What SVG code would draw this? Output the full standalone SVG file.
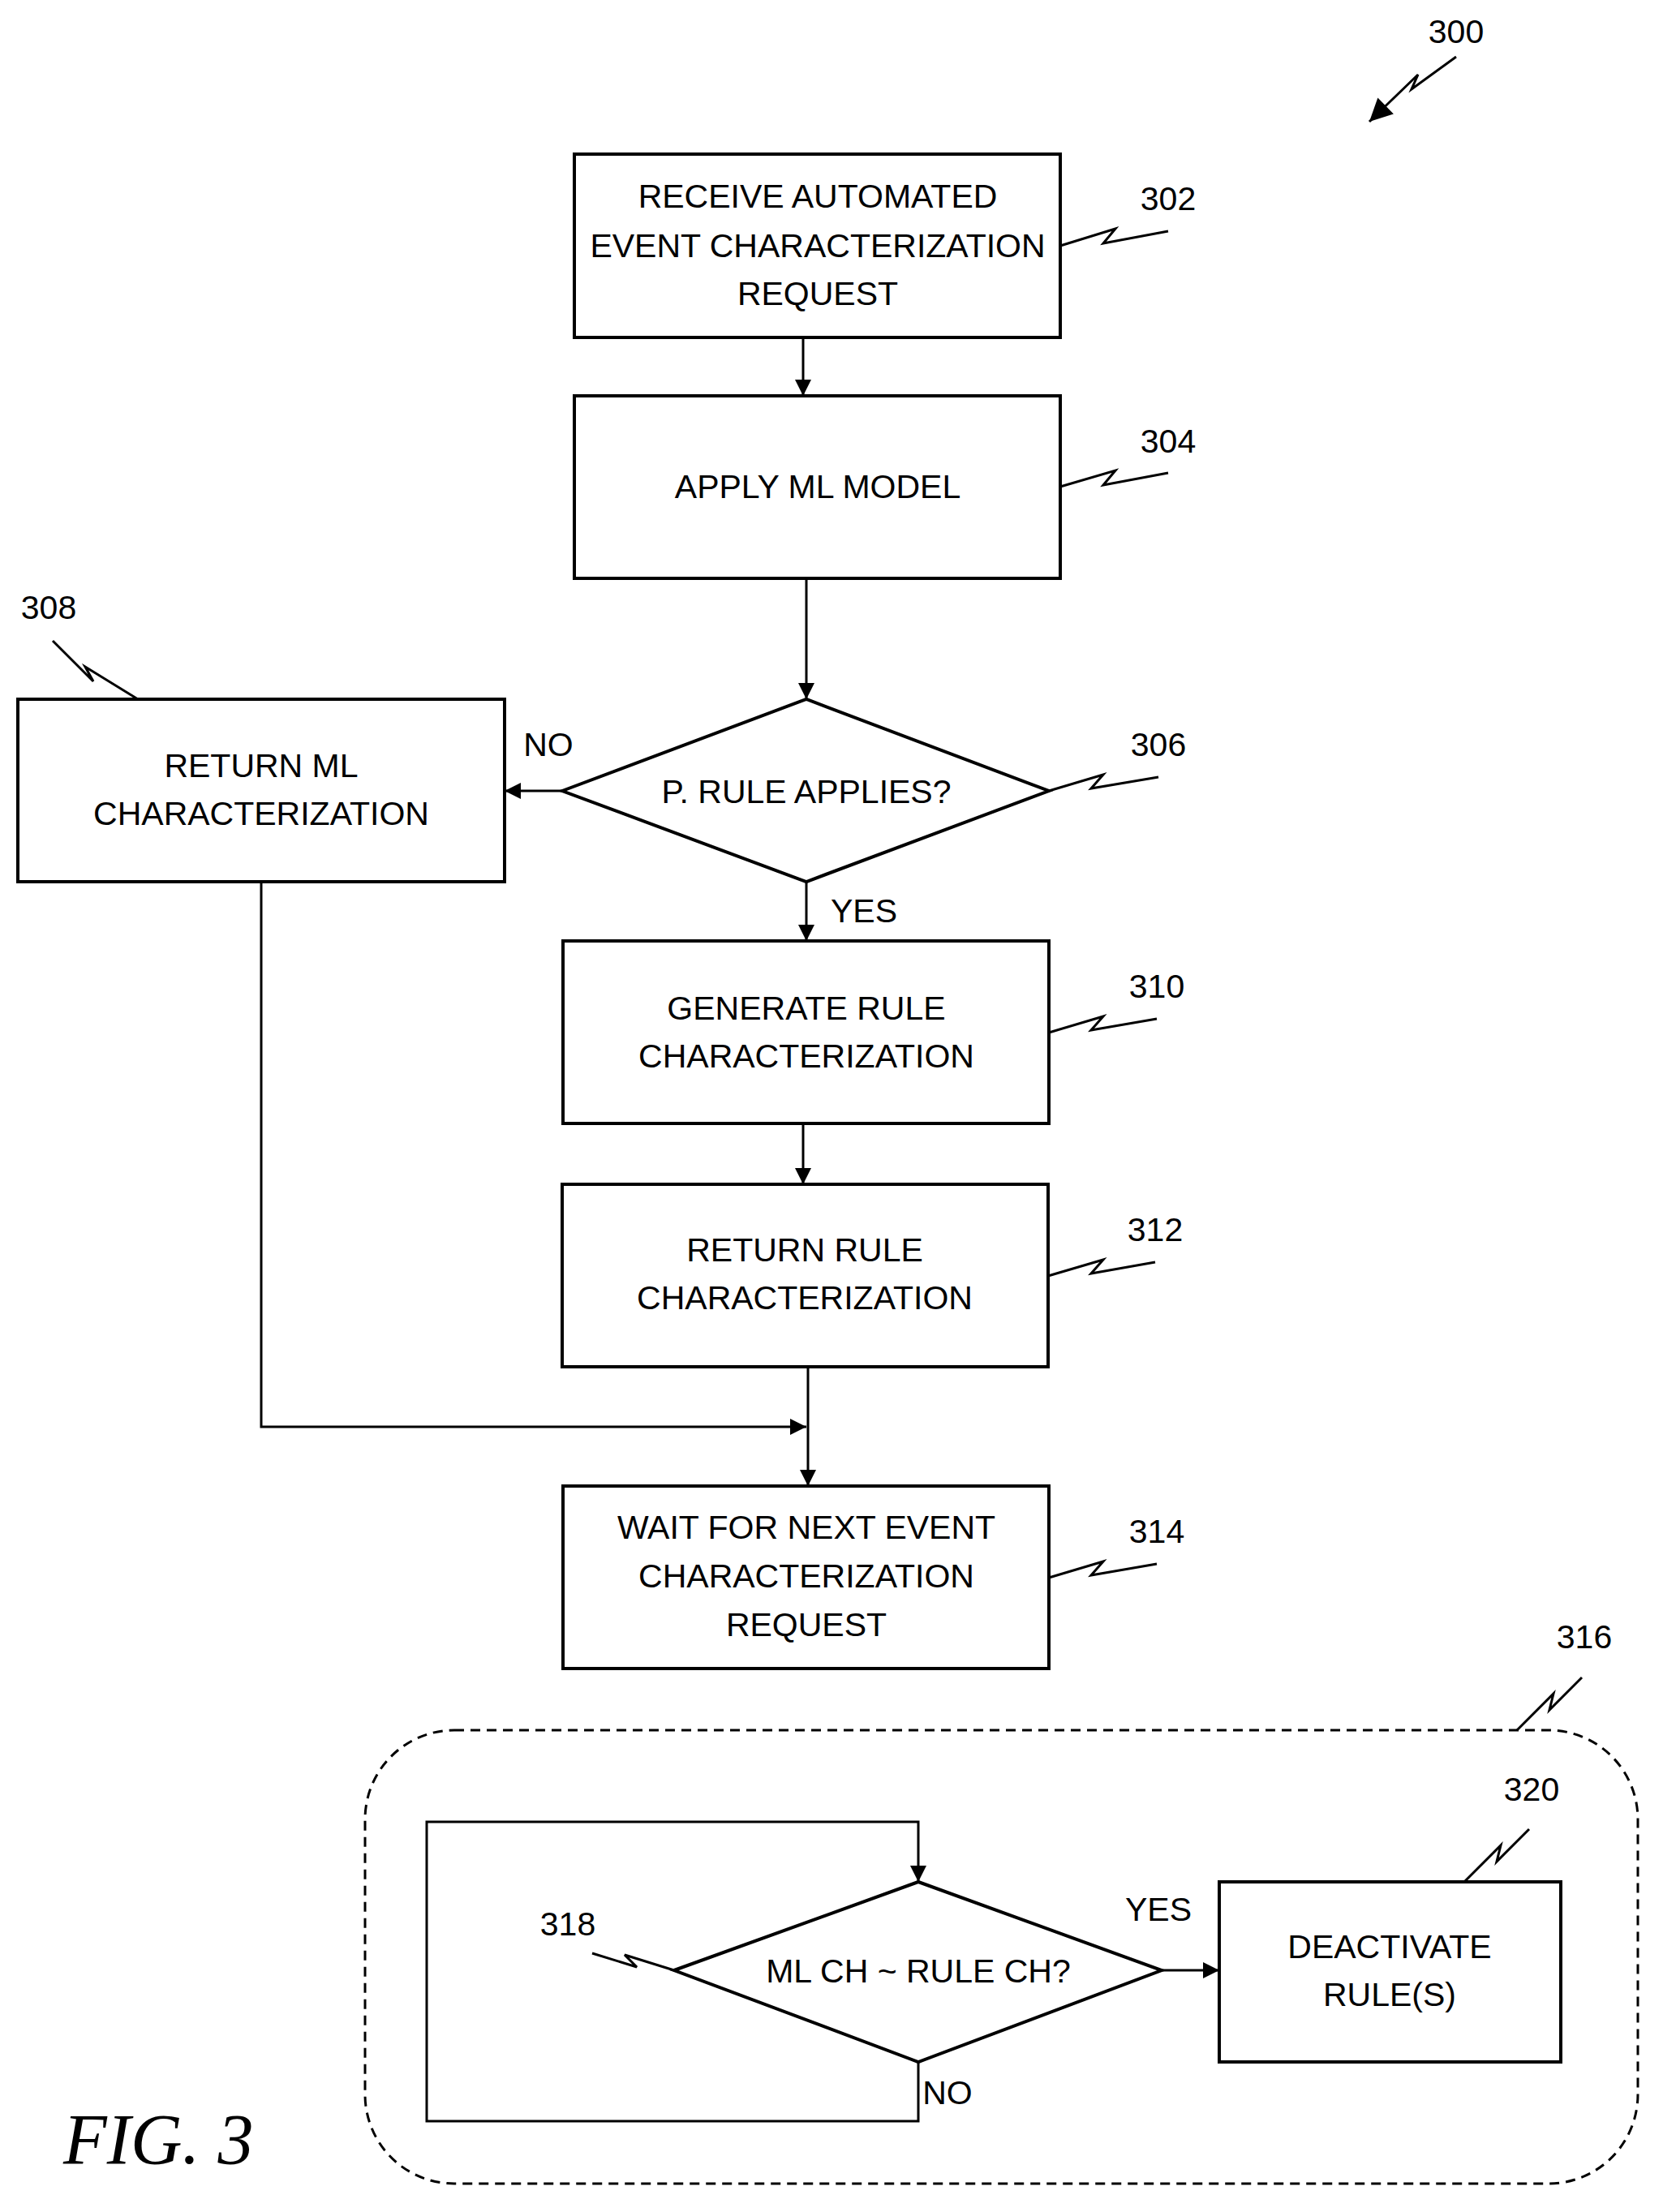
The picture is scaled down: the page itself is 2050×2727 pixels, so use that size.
<svg xmlns="http://www.w3.org/2000/svg" width="2050" height="2727" viewBox="0 0 2050 2727">
<defs>
<marker id="ah" viewBox="0 0 10 10" refX="10" refY="5" markerWidth="34" markerHeight="28" orient="auto" markerUnits="userSpaceOnUse">
<path d="M0,0 L10,5 L0,10 z" fill="#000"/>
</marker>
<marker id="a" viewBox="0 0 10 10" refX="10" refY="5" markerWidth="24" markerHeight="20" orient="auto" markerUnits="userSpaceOnUse"><path d="M0,0 L10,5 L0,10 z" fill="#000"/></marker>
</defs>
<style>
.b{fill:#fff;stroke:#000;stroke-width:4}
.t{font-family:"Liberation Sans",Arial,sans-serif;font-size:41px;text-anchor:middle;fill:#000}
.n{font-family:"Liberation Sans",Arial,sans-serif;font-size:41px;text-anchor:middle;fill:#000}
.c{fill:none;stroke:#000;stroke-width:3}
.l{fill:none;stroke:#000;stroke-width:3}
</style>
<rect width="2050" height="2727" fill="#fff"/>
<g id="connectors">
<path class="c" d="M990,416 V488" marker-end="url(#a)"/>
<path class="c" d="M994,713 V862" marker-end="url(#a)"/>
<path class="c" d="M693,975 H622" marker-end="url(#a)"/>
<path class="c" d="M994,1087 V1160" marker-end="url(#a)"/>
<path class="c" d="M990,1385 V1460" marker-end="url(#a)"/>
<path class="c" d="M996,1685 V1832" marker-end="url(#a)"/>
<path class="c" d="M322,1087 V1759 H994" marker-end="url(#a)"/>
<path class="c" d="M1432,2429 H1503" marker-end="url(#a)"/>
<path class="c" d="M1132,2542 V2615 H526 V2246 H1132 V2320" marker-end="url(#a)"/>
<text class="t" x="676" y="932">NO</text>
<text class="t" x="1065" y="1137">YES</text>
<text class="t" x="1428" y="2368">YES</text>
<text class="t" x="1168" y="2594">NO</text>
</g>
<g id="n300"><text class="n" x="1795" y="53">300</text><path class="l" d="M1795,70 L1740,110 L1748,92 L1688,150" marker-end="url(#ah)"/></g>
<g id="n302"><rect class="b" x="708" y="190" width="599" height="226"/><text class="t" x="1008" y="256">RECEIVE AUTOMATED</text><text class="t" x="1008" y="317">EVENT CHARACTERIZATION</text><text class="t" x="1008" y="376">REQUEST</text><text class="n" x="1440" y="259">302</text><path class="l" d="M1307,303 L1375,282 L1360,300 L1440,285"/></g>
<g id="n304"><rect class="b" x="708" y="488" width="599" height="225"/><text class="t" x="1008" y="614">APPLY ML MODEL</text><text class="n" x="1440" y="558">304</text><path class="l" d="M1307,600 L1375,580 L1360,598 L1440,583"/></g>
<g id="n306"><polygon class="b" points="693,975 994,862 1293,975 994,1087"/><text class="t" x="994" y="990">P. RULE APPLIES?</text><text class="n" x="1428" y="932">306</text><path class="l" d="M1293,975 L1360,955 L1345,972 L1428,958"/></g>
<g id="n308"><rect class="b" x="22" y="862" width="600" height="225"/><text class="t" x="322" y="958">RETURN ML</text><text class="t" x="322" y="1017">CHARACTERIZATION</text><text class="n" x="60" y="763">308</text><path class="l" d="M65,790 L115,840 L105,822 L170,862"/></g>
<g id="n310"><rect class="b" x="694" y="1160" width="599" height="225"/><text class="t" x="994" y="1257">GENERATE RULE</text><text class="t" x="994" y="1316">CHARACTERIZATION</text><text class="n" x="1426" y="1230">310</text><path class="l" d="M1293,1273 L1360,1253 L1345,1270 L1426,1256"/></g>
<g id="n312"><rect class="b" x="693" y="1460" width="599" height="225"/><text class="t" x="992" y="1555">RETURN RULE</text><text class="t" x="992" y="1614">CHARACTERIZATION</text><text class="n" x="1424" y="1530">312</text><path class="l" d="M1292,1573 L1360,1553 L1345,1570 L1424,1556"/></g>
<g id="n314"><rect class="b" x="694" y="1832" width="599" height="225"/><text class="t" x="994" y="1897">WAIT FOR NEXT EVENT</text><text class="t" x="994" y="1957">CHARACTERIZATION</text><text class="t" x="994" y="2017">REQUEST</text><text class="n" x="1426" y="1902">314</text><path class="l" d="M1293,1945 L1360,1925 L1345,1942 L1426,1928"/></g>
<g id="n316"><rect x="450" y="2133" width="1569" height="559" rx="110" fill="none" stroke="#000" stroke-width="3" stroke-dasharray="12,8"/><text class="n" x="1953" y="2032">316</text><path class="l" d="M1870,2133 L1915,2088 L1910,2108 L1950,2068"/></g>
<g id="n318"><polygon class="b" points="831,2429 1132,2320 1432,2429 1132,2542"/><text class="t" x="1132" y="2444">ML CH ~ RULE CH?</text><text class="n" x="700" y="2386">318</text><path class="l" d="M831,2429 L770,2410 L785,2425 L730,2408"/></g>
<g id="n320"><rect class="b" x="1503" y="2320" width="421" height="222"/><text class="t" x="1713" y="2414">DEACTIVATE</text><text class="t" x="1713" y="2473">RULE(S)</text><text class="n" x="1888" y="2220">320</text><path class="l" d="M1805,2320 L1850,2275 L1845,2295 L1885,2255"/></g>
<text x="78" y="2667" font-family="'Liberation Serif','Times New Roman',serif" font-style="italic" font-size="88">FIG. 3</text>
</svg>
